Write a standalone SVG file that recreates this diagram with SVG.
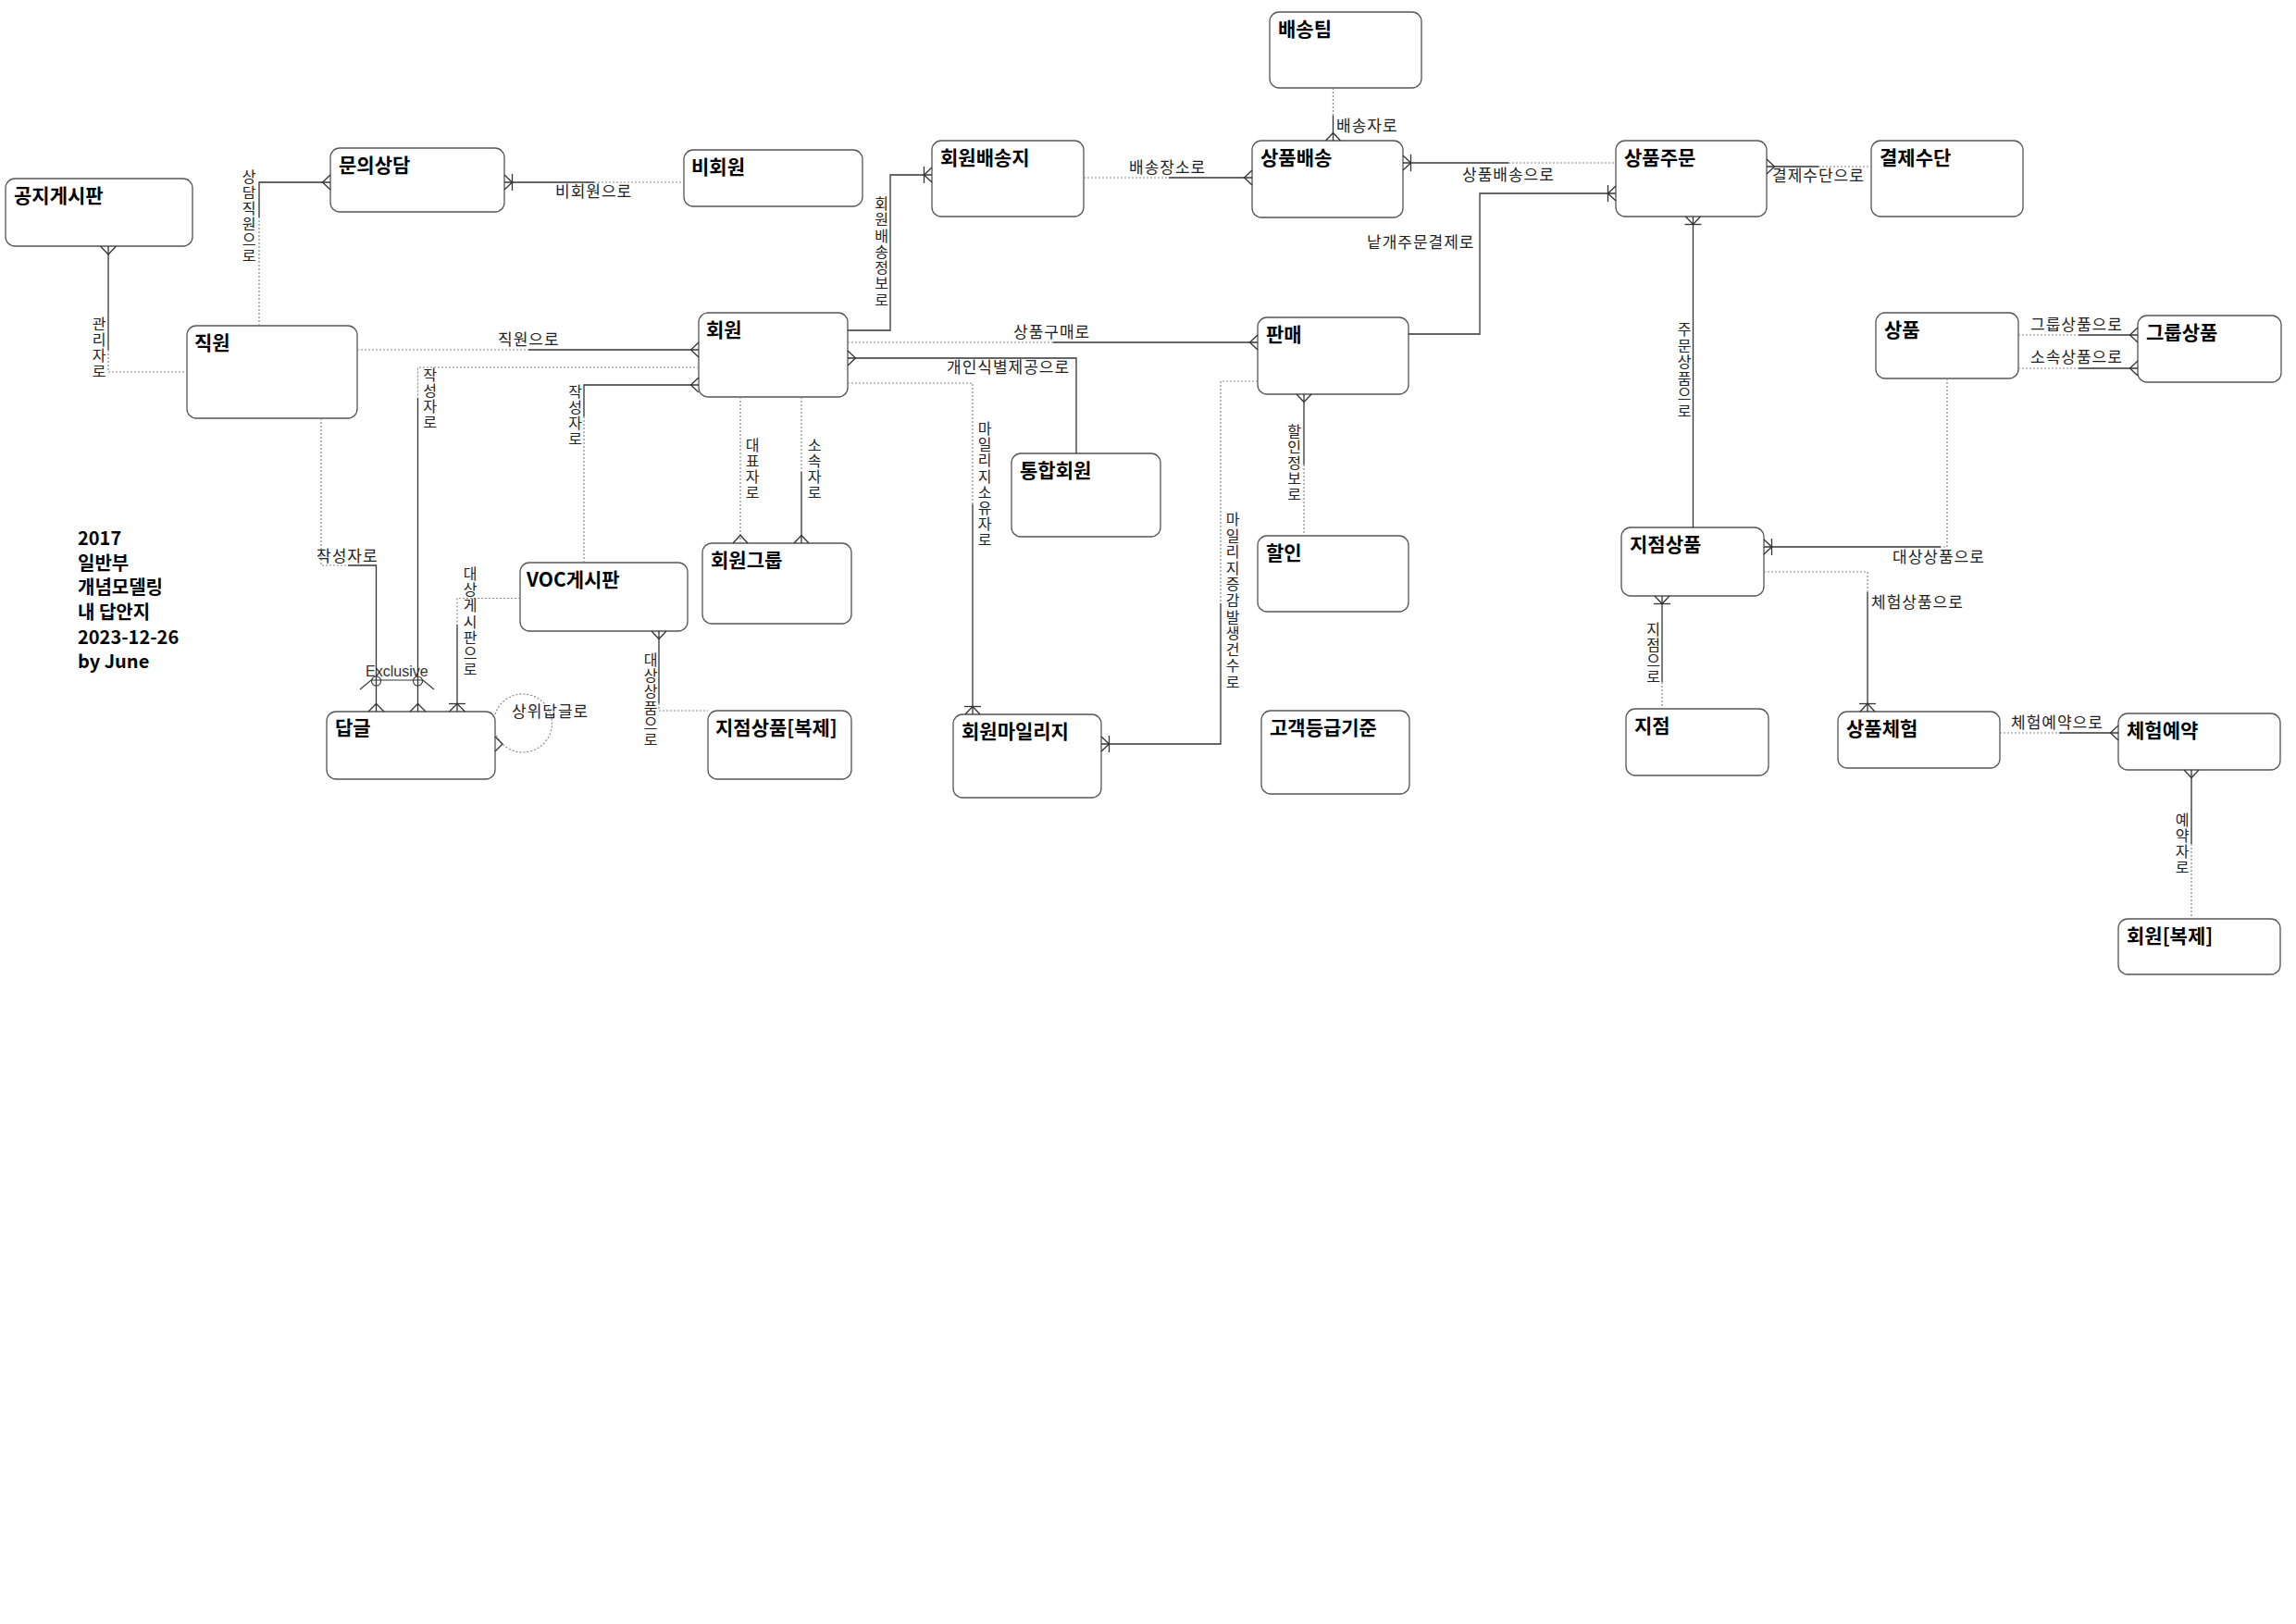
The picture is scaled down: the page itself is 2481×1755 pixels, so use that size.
<svg xmlns="http://www.w3.org/2000/svg" width="2481" height="1755" viewBox="0 0 2481 1755">
<style>
.box{fill:#fff;stroke:#555;stroke-width:1.3}
.t{font-family:"Noto Sans CJK KR","Noto Sans",sans-serif;font-weight:bold;font-size:21px;fill:#000}
.tb{font-family:"Noto Sans CJK KR","Noto Sans",sans-serif;font-weight:bold;font-size:20px;fill:#000}
.l{font-family:"Noto Sans CJK KR","Noto Sans",sans-serif;font-size:17px;letter-spacing:1px;fill:#222}
.v{font-family:"Noto Sans CJK KR","Noto Sans",sans-serif;font-size:16px;fill:#222;text-anchor:middle}
.ex{font-family:"Liberation Sans",Arial,sans-serif;font-size:16px;fill:#333}
.s{fill:none;stroke:#333;stroke-width:1.3}
.d{fill:none;stroke:#888;stroke-width:1.2;stroke-dasharray:2 2}
.f{fill:none;stroke:#333;stroke-width:1.3}
</style>
<rect width="2481" height="1755" fill="#fff"/>

<g id="title-block" class="tb">
<text x="84" y="589">2017</text>
<text x="84" y="615.7">일반부</text>
<text x="84" y="642.3">개념모델링</text>
<text x="84" y="669">내 답안지</text>
<text x="84" y="695.7">2023-12-26</text>
<text x="84" y="722.3">by June</text>
</g>

<g id="nodes">
<g id="n-배송팀"><rect class="box" x="1372" y="13" width="164" height="82" rx="10"/><text class="t" x="1381" y="39">배송팀</text></g>
<g id="n-상품배송"><rect class="box" x="1353" y="152" width="163" height="83" rx="10"/><text class="t" x="1362" y="178">상품배송</text></g>
<g id="n-상품주문"><rect class="box" x="1746" y="152" width="163" height="82" rx="10"/><text class="t" x="1755" y="178">상품주문</text></g>
<g id="n-결제수단"><rect class="box" x="2022" y="152" width="164" height="82" rx="10"/><text class="t" x="2031" y="178">결제수단</text></g>
<g id="n-판매"><rect class="box" x="1359" y="343" width="163" height="83" rx="10"/><text class="t" x="1368" y="369">판매</text></g>
<g id="n-상품"><rect class="box" x="2027" y="338" width="154" height="71" rx="10"/><text class="t" x="2036" y="364">상품</text></g>
<g id="n-그룹상품"><rect class="box" x="2310" y="341" width="155" height="72" rx="10"/><text class="t" x="2319" y="367">그룹상품</text></g>
<g id="n-공지게시판"><rect class="box" x="6" y="193" width="202" height="73" rx="10"/><text class="t" x="15" y="219">공지게시판</text></g>
<g id="n-문의상담"><rect class="box" x="357" y="160" width="188" height="69" rx="10"/><text class="t" x="366" y="186">문의상담</text></g>
<g id="n-직원"><rect class="box" x="202" y="352" width="184" height="100" rx="10"/><text class="t" x="210" y="378">직원</text></g>
<g id="n-비회원"><rect class="box" x="739" y="162" width="193" height="61" rx="10"/><text class="t" x="747" y="188">비회원</text></g>
<g id="n-회원배송지"><rect class="box" x="1007" y="152" width="164" height="82" rx="10"/><text class="t" x="1016" y="178">회원배송지</text></g>
<g id="n-회원"><rect class="box" x="755" y="338" width="161" height="91" rx="10"/><text class="t" x="763" y="364">회원</text></g>
<g id="n-통합회원"><rect class="box" x="1093" y="490" width="161" height="90" rx="10"/><text class="t" x="1102" y="516">통합회원</text></g>
<g id="n-회원그룹"><rect class="box" x="759" y="587" width="161" height="87" rx="10"/><text class="t" x="768" y="613">회원그룹</text></g>
<g id="n-VOC게시판"><rect class="box" x="562" y="608" width="181" height="74" rx="10"/><text class="t" x="569" y="634">VOC게시판</text></g>
<g id="n-지점상품복제"><rect class="box" x="765" y="768" width="155" height="74" rx="10"/><text class="t" x="773" y="794">지점상품[복제]</text></g>
<g id="n-회원마일리지"><rect class="box" x="1030" y="772" width="160" height="90" rx="10"/><text class="t" x="1039" y="798">회원마일리지</text></g>
<g id="n-답글"><rect class="box" x="353" y="769" width="182" height="73" rx="10"/><text class="t" x="362" y="794">답글</text></g>
<g id="n-할인"><rect class="box" x="1359" y="579" width="163" height="82" rx="10"/><text class="t" x="1368" y="605">할인</text></g>
<g id="n-고객등급기준"><rect class="box" x="1363" y="768" width="160" height="90" rx="10"/><text class="t" x="1372" y="794">고객등급기준</text></g>
<g id="n-지점상품"><rect class="box" x="1752" y="570" width="154" height="74" rx="10"/><text class="t" x="1761" y="596">지점상품</text></g>
<g id="n-지점"><rect class="box" x="1757" y="766" width="154" height="72" rx="10"/><text class="t" x="1766" y="792">지점</text></g>
<g id="n-상품체험"><rect class="box" x="1986" y="769" width="175" height="61" rx="10"/><text class="t" x="1995" y="795">상품체험</text></g>
<g id="n-체험예약"><rect class="box" x="2289" y="771" width="175" height="61" rx="10"/><text class="t" x="2298" y="797">체험예약</text></g>
<g id="n-회원복제"><rect class="box" x="2289" y="993" width="175" height="60" rx="10"/><text class="t" x="2298" y="1019">회원[복제]</text></g>
</g>

<g id="connectors">
<!-- 공지게시판 - 직원 : 관리자로 -->
<path class="s" d="M117,266V378"/><path class="d" d="M117,378V402H202"/>
<polyline class="f" points="108.5,266 117,275 125.5,266"/>
<!-- 직원 - 문의상담 : 상담직원으로 -->
<path class="d" d="M280,352V235"/><path class="s" d="M280,235V197H357"/>
<polyline class="f" points="357,189 348.5,197 357,205"/>
<!-- 문의상담 - 비회원 : 비회원으로 -->
<path class="s" d="M545,197H642"/><path class="d" d="M642,197H739"/>
<polyline class="f" points="545,189 553.5,197 545,205"/><path class="f" d="M553.5,188V206"/>
<!-- 회원 - 회원배송지 : 회원배송정보로 -->
<path class="s" d="M916,357H962V189H1007"/>
<polyline class="f" points="1007,181 998.5,189 1007,197"/><path class="f" d="M998.5,180V198"/>
<!-- 직원 - 회원 : 직원으로 -->
<path class="d" d="M386,378H571"/><path class="s" d="M571,378H755"/>
<polyline class="f" points="755,370 746.5,378 755,386"/>
<!-- 회원 - VOC게시판 : 작성자로 -->
<path class="s" d="M755,416H631V450"/><path class="d" d="M631,450V608"/>
<polyline class="f" points="755,408 746.5,416 755,424"/>
<!-- 회원 - 답글 : 작성자로 -->
<path class="d" d="M755,397H451.5V430"/><path class="s" d="M451.5,430V769"/>
<polyline class="f" points="443,769 451.5,760.5 460,769"/>
<!-- 직원 - 답글 : 작성자로 -->
<path class="d" d="M347,452V611H376"/><path class="s" d="M376,611H406.5V769"/>
<polyline class="f" points="398,769 406.5,760.5 415,769"/>
<!-- Exclusive arc -->
<polyline class="f" points="389,745 401,735 457,735 469,745" style="stroke-width:1.1"/>
<circle cx="406.5" cy="736" r="5" fill="none" stroke="#333" stroke-width="1.1"/>
<circle cx="451.5" cy="736" r="5" fill="none" stroke="#333" stroke-width="1.1"/>
<!-- VOC게시판 - 답글 : 대상게시판으로 -->
<path class="d" d="M562,646.5H494V675"/><path class="s" d="M494,675V769"/>
<polyline class="f" points="485.5,769 494,760.5 502.5,769"/><path class="f" d="M485,760.5H503"/>
<!-- 답글 self : 상위답글로 -->
<path class="d" d="M535,771.9A31.5,31.5 0 1 1 535,791.1"/>
<polyline class="f" points="535,796 543,804 535,812"/>
<!-- VOC게시판 - 지점상품[복제] : 대상상품으로 -->
<path class="s" d="M712,682V760"/><path class="d" d="M712,760V768H765"/>
<polyline class="f" points="704,682 712,690.5 720,682"/>
<!-- 회원 - 회원그룹 : 대표자로 -->
<path class="d" d="M800,429V587"/>
<polyline class="f" points="792,587 800,578.5 808,587"/>
<!-- 회원 - 회원그룹 : 소속자로 -->
<path class="d" d="M866,429V510"/><path class="s" d="M866,510V587"/>
<polyline class="f" points="858,587 866,578.5 874,587"/>
<!-- 회원 - 통합회원 : 개인식별제공으로 -->
<path class="s" d="M916,387H1163V490"/>
<polyline class="f" points="916,379 924.5,387 916,395"/>
<!-- 회원 - 판매 : 상품구매로 -->
<path class="d" d="M916,370H1138"/><path class="s" d="M1138,370H1359"/>
<polyline class="f" points="1359,362 1350.5,370 1359,378"/>
<!-- 회원 - 회원마일리지 : 마일리지소유자로 -->
<path class="d" d="M916,414H1051V545"/><path class="s" d="M1051,545V772"/>
<polyline class="f" points="1043,772 1051,763.5 1059,772"/><path class="f" d="M1042,763.5H1060"/>
<!-- 판매 - 회원마일리지 : 마일리지증감발생건수로 -->
<path class="d" d="M1359,412H1319V652"/><path class="s" d="M1319,652V804H1190"/>
<polyline class="f" points="1190,796 1198.5,804 1190,812"/><path class="f" d="M1198.5,795V813"/>
<!-- 판매 - 할인 : 할인정보로 -->
<path class="s" d="M1409,426V502"/><path class="d" d="M1409,502V579"/>
<polyline class="f" points="1401,426 1409,434.5 1417,426"/>
<!-- 판매 - 상품주문 : 낱개주문결제로 -->
<path class="s" d="M1522,361H1599V209H1746"/>
<polyline class="f" points="1746,201 1737.5,209 1746,217"/><path class="f" d="M1737.5,200V218"/>
<!-- 상품배송 - 상품주문 : 상품배송으로 -->
<path class="s" d="M1516,176H1630"/><path class="d" d="M1630,176H1746"/>
<polyline class="f" points="1516,168 1524.5,176 1516,184"/><path class="f" d="M1524.5,167V185"/>
<!-- 회원배송지 - 상품배송 : 배송장소로 -->
<path class="d" d="M1171,192H1263"/><path class="s" d="M1263,192H1353"/>
<polyline class="f" points="1353,184 1344.5,192 1353,200"/>
<!-- 배송팀 - 상품배송 : 배송자로 -->
<path class="d" d="M1440.5,95V125"/><path class="s" d="M1440.5,125V152"/>
<polyline class="f" points="1432.5,152 1440.5,143.5 1448.5,152"/>
<!-- 상품주문 - 결제수단 : 결제수단으로 -->
<path class="s" d="M1909,180H1965"/><path class="d" d="M1965,180H2022"/>
<polyline class="f" points="1909,172 1917.5,180 1909,188"/>
<!-- 상품주문 - 지점상품 : 주문상품으로 -->
<path class="s" d="M1829.5,234V570"/>
<polyline class="f" points="1821.5,234 1829.5,242.5 1837.5,234"/><path class="f" d="M1820.5,242.5H1838.5"/>
<!-- 상품 - 지점상품 : 대상상품으로 -->
<path class="d" d="M2104,409V591H2097"/><path class="s" d="M2097,591H1906"/>
<polyline class="f" points="1906,583 1914.5,591 1906,599"/><path class="f" d="M1914.5,582V600"/>
<!-- 지점상품 - 상품체험 : 체험상품으로 -->
<path class="d" d="M1906,618H2018V640"/><path class="s" d="M2018,640V769"/>
<polyline class="f" points="2010,769 2018,760.5 2026,769"/><path class="f" d="M2009,760.5H2027"/>
<!-- 지점상품 - 지점 : 지점으로 -->
<path class="s" d="M1796,644V737"/><path class="d" d="M1796,737V766"/>
<polyline class="f" points="1788,644 1796,652.5 1804,644"/><path class="f" d="M1787,652.5H1805"/>
<!-- 상품체험 - 체험예약 : 체험예약으로 -->
<path class="d" d="M2161,792H2225"/><path class="s" d="M2225,792H2289"/>
<polyline class="f" points="2289,784 2280.5,792 2289,800"/>
<!-- 체험예약 - 회원[복제] : 예약자로 -->
<path class="s" d="M2368,832V912"/><path class="d" d="M2368,912V993"/>
<polyline class="f" points="2360,832 2368,840.5 2376,832"/>
<!-- 상품 - 그룹상품 : 그룹상품으로 -->
<path class="d" d="M2181,362H2246"/><path class="s" d="M2246,362H2310"/>
<polyline class="f" points="2310,354 2301.5,362 2310,370"/>
<!-- 상품 - 그룹상품 : 소속상품으로 -->
<path class="d" d="M2181,398H2246"/><path class="s" d="M2246,398H2310"/>
<polyline class="f" points="2310,390 2301.5,398 2310,406"/>

<!-- horizontal labels -->
<text class="l" x="600" y="213">비회원으로</text>
<text class="l" x="538" y="373">직원으로</text>
<text class="l" x="342" y="607">작성자로</text>
<text class="ex" x="395" y="731">Exclusive</text>
<text class="l" x="553" y="775">상위답글로</text>
<text class="l" x="1023" y="403">개인식별제공으로</text>
<text class="l" x="1095" y="365">상품구매로</text>
<text class="l" x="1477" y="268">낱개주문결제로</text>
<text class="l" x="1580" y="195">상품배송으로</text>
<text class="l" x="1220" y="187">배송장소로</text>
<text class="l" x="1444" y="142">배송자로</text>
<text class="l" x="1915" y="196">결제수단으로</text>
<text class="l" x="2045" y="608">대상상품으로</text>
<text class="l" x="2022" y="657">체험상품으로</text>
<text class="l" x="2173" y="787">체험예약으로</text>
<text class="l" x="2194" y="357">그룹상품으로</text>
<text class="l" x="2194" y="392">소속상품으로</text>

<!-- vertical labels -->
<text class="v"><tspan x="107" y="356">관</tspan><tspan x="107" y="373">리</tspan><tspan x="107" y="390">자</tspan><tspan x="107" y="407">로</tspan></text>
<text class="v"><tspan x="269" y="197">상</tspan><tspan x="269" y="214">담</tspan><tspan x="269" y="231">직</tspan><tspan x="269" y="248">원</tspan><tspan x="269" y="265">으</tspan><tspan x="269" y="282">로</tspan></text>
<text class="v"><tspan x="952.5" y="226">회</tspan><tspan x="952.5" y="243">원</tspan><tspan x="952.5" y="261">배</tspan><tspan x="952.5" y="278">송</tspan><tspan x="952.5" y="295">정</tspan><tspan x="952.5" y="312">보</tspan><tspan x="952.5" y="330">로</tspan></text>
<text class="v"><tspan x="621.5" y="429">작</tspan><tspan x="621.5" y="446">성</tspan><tspan x="621.5" y="463">자</tspan><tspan x="621.5" y="480">로</tspan></text>
<text class="v"><tspan x="464.5" y="411">작</tspan><tspan x="464.5" y="428">성</tspan><tspan x="464.5" y="445">자</tspan><tspan x="464.5" y="462">로</tspan></text>
<text class="v"><tspan x="508" y="626">대</tspan><tspan x="508" y="643">상</tspan><tspan x="508" y="660">게</tspan><tspan x="508" y="678">시</tspan><tspan x="508" y="695">판</tspan><tspan x="508" y="712">으</tspan><tspan x="508" y="729">로</tspan></text>
<text class="v"><tspan x="703" y="719">대</tspan><tspan x="703" y="736">상</tspan><tspan x="703" y="753">상</tspan><tspan x="703" y="771">품</tspan><tspan x="703" y="788">으</tspan><tspan x="703" y="805">로</tspan></text>
<text class="v"><tspan x="813" y="487">대</tspan><tspan x="813" y="504">표</tspan><tspan x="813" y="521">자</tspan><tspan x="813" y="538">로</tspan></text>
<text class="v"><tspan x="880" y="487">소</tspan><tspan x="880" y="504">속</tspan><tspan x="880" y="521">자</tspan><tspan x="880" y="538">로</tspan></text>
<text class="v"><tspan x="1064" y="469">마</tspan><tspan x="1064" y="486">일</tspan><tspan x="1064" y="503">리</tspan><tspan x="1064" y="521">지</tspan><tspan x="1064" y="538">소</tspan><tspan x="1064" y="555">유</tspan><tspan x="1064" y="572">자</tspan><tspan x="1064" y="589">로</tspan></text>
<text class="v"><tspan x="1332" y="567">마</tspan><tspan x="1332" y="584.6">일</tspan><tspan x="1332" y="602.2">리</tspan><tspan x="1332" y="619.8">지</tspan><tspan x="1332" y="637.4">증</tspan><tspan x="1332" y="655">감</tspan><tspan x="1332" y="672.6">발</tspan><tspan x="1332" y="690.2">생</tspan><tspan x="1332" y="707.8">건</tspan><tspan x="1332" y="725.4">수</tspan><tspan x="1332" y="743">로</tspan></text>
<text class="v"><tspan x="1398.5" y="472">할</tspan><tspan x="1398.5" y="489">인</tspan><tspan x="1398.5" y="506">정</tspan><tspan x="1398.5" y="523">보</tspan><tspan x="1398.5" y="540">로</tspan></text>
<text class="v"><tspan x="1820" y="362">주</tspan><tspan x="1820" y="379.5">문</tspan><tspan x="1820" y="397">상</tspan><tspan x="1820" y="414.5">품</tspan><tspan x="1820" y="432">으</tspan><tspan x="1820" y="449.5">로</tspan></text>
<text class="v"><tspan x="1786.5" y="686">지</tspan><tspan x="1786.5" y="703">점</tspan><tspan x="1786.5" y="720">으</tspan><tspan x="1786.5" y="737">로</tspan></text>
<text class="v"><tspan x="2358" y="892">예</tspan><tspan x="2358" y="909">약</tspan><tspan x="2358" y="926">자</tspan><tspan x="2358" y="943">로</tspan></text>
</g>
</svg>
